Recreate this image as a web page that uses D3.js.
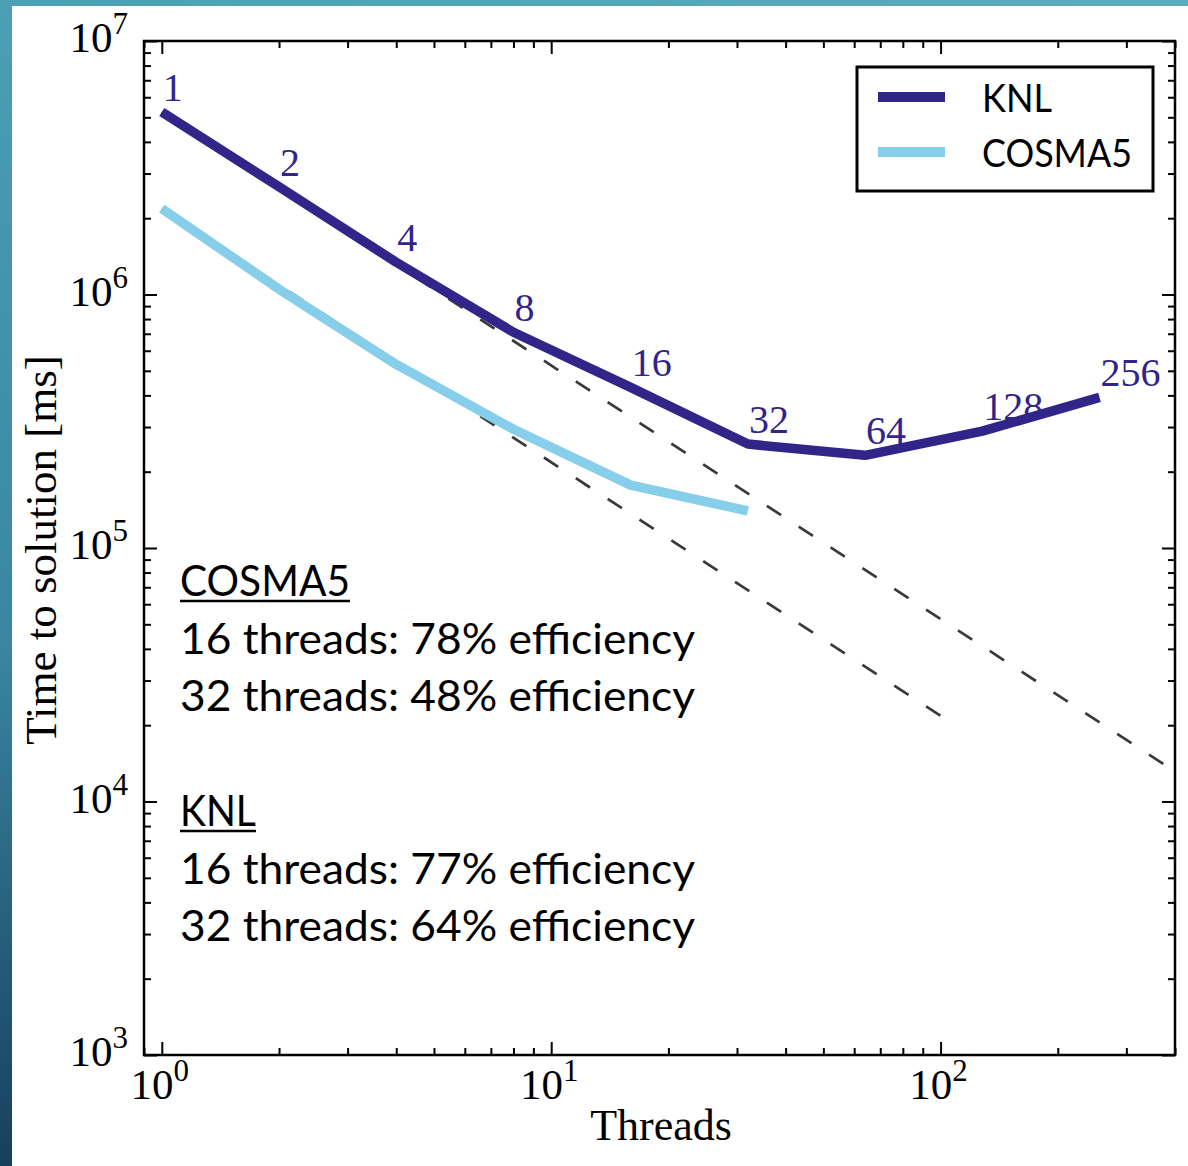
<!DOCTYPE html>
<html lang="en">
<head>
<meta charset="utf-8">
<title>Time to solution</title>
<script src="https://cdnjs.cloudflare.com/ajax/libs/d3/7.8.5/d3.min.js"></script>
<style>
  body { margin: 0; background: #fff; }
  svg { display: block; }
  .serif { font-family: "Liberation Serif", "DejaVu Serif", serif; }
  .sans { font-family: Lato, "Open Sans", sans-serif; }
  .axis path.domain { display: none; }
  .axis line { stroke: #000; stroke-width: 2; }
</style>
</head>
<body>
<div id="chart"></div>
<script>

// data
const knlThreads = [1, 2, 4, 8, 16, 32, 64, 128, 256];
const knlTimes = [5.25e6, 2.66e6, 1.34e6, 7.1e5, 4.3e5, 2.57e5, 2.32e5, 2.89e5, 3.93e5];
const cosmaThreads = [1, 2, 4, 8, 16, 32];
const cosmaTimes = [2.18e6, 1.05e6, 5.3e5, 2.94e5, 1.77e5, 1.40e5];

// ideal scaling guides (dashed)
const knlIdealThreads = [1, 400];
const knlIdealTimes = [5.25e6, 1.3125e4];
const cosmaIdealThreads = [1, 100];
const cosmaIdealTimes = [2.18e6, 2.18e4];

const xMajor = [1, 10, 100];
const xExponents = ["0", "1", "2"];
const yMajor = [1e3, 1e4, 1e5, 1e6, 1e7];
const yExponents = ["3", "4", "5", "6", "7"];

const seriesNames = ["KNL", "COSMA5"];
const seriesColors = ["#31258a", "#87ceeb"];

const noteHeads = ["COSMA5", "KNL"];
const noteLines = [
  ["16 threads: 78% efficiency", "32 threads: 48% efficiency"],
  ["16 threads: 77% efficiency", "32 threads: 64% efficiency"]
];

const W = 1188, H = 1166;
const box = {left: 144, right: 1175, top: 41, bottom: 1055};

const svg = d3.select("#chart").append("svg")
    .attr("width", W)
    .attr("height", H);

// slide frame
const defs = svg.append("defs");
const gv = defs.append("linearGradient").attr("id", "gv")
    .attr("x1", 0).attr("y1", 0).attr("x2", 0).attr("y2", 1);
gv.append("stop").attr("offset", "0%").attr("stop-color", "#4c9fb4");
gv.append("stop").attr("offset", "55%").attr("stop-color", "#3a86a0");
gv.append("stop").attr("offset", "100%").attr("stop-color", "#173f5e");
const gh = defs.append("linearGradient").attr("id", "gh")
    .attr("x1", 0).attr("y1", 0).attr("x2", 1).attr("y2", 0);
gh.append("stop").attr("offset", "0%").attr("stop-color", "#4c9fb4");
gh.append("stop").attr("offset", "100%").attr("stop-color", "#5cacbf");

svg.append("rect").attr("width", W).attr("height", H).attr("fill", "#fff");
svg.append("rect").attr("x", 0).attr("y", 0).attr("width", W).attr("height", 6).attr("fill", "url(#gh)");
svg.append("rect").attr("x", 0).attr("y", 0).attr("width", 12).attr("height", H).attr("fill", "url(#gv)");

const x = d3.scaleLog().domain([0.9, 400]).range([box.left, box.right]);
const y = d3.scaleLog().domain([1e3, 1e7]).range([box.bottom, box.top]);

const xMinor = x.ticks().filter(t => !xMajor.includes(t));
const yMinor = y.ticks().filter(t => !yMajor.includes(t));

const clip = defs.append("clipPath").attr("id", "plotclip");
clip.append("rect").attr("x", box.left).attr("y", box.top)
    .attr("width", box.right - box.left).attr("height", box.bottom - box.top);

// ticks, pointing inwards on all four sides
function tickLayer(axis, tx, ty) {
  svg.append("g").attr("class", "axis")
      .attr("transform", "translate(" + tx + "," + ty + ")")
      .call(axis);
}
tickLayer(d3.axisBottom(x).tickValues(xMajor).tickSize(-13).tickFormat(""), 0, box.bottom);
tickLayer(d3.axisBottom(x).tickValues(xMinor).tickSize(-7).tickFormat(""), 0, box.bottom);
tickLayer(d3.axisTop(x).tickValues(xMajor).tickSize(-13).tickFormat(""), 0, box.top);
tickLayer(d3.axisTop(x).tickValues(xMinor).tickSize(-7).tickFormat(""), 0, box.top);
tickLayer(d3.axisLeft(y).tickValues(yMajor).tickSize(-13).tickFormat(""), box.left, 0);
tickLayer(d3.axisLeft(y).tickValues(yMinor).tickSize(-7).tickFormat(""), box.left, 0);
tickLayer(d3.axisRight(y).tickValues(yMajor).tickSize(-13).tickFormat(""), box.right, 0);
tickLayer(d3.axisRight(y).tickValues(yMinor).tickSize(-7).tickFormat(""), box.right, 0);

// tick labels 10^n
const xLab = svg.append("g").attr("class", "serif");
xMajor.forEach((v, i) => {
  const t = xLab.append("text")
      .attr("x", x(v) - 2).attr("y", 1099)
      .attr("text-anchor", "middle")
      .attr("font-size", 43);
  t.append("tspan").text("10");
  t.append("tspan").attr("dy", -18).attr("font-size", 31).text(xExponents[i]);
});
const yLab = svg.append("g").attr("class", "serif");
yMajor.forEach((v, i) => {
  const t = yLab.append("text")
      .attr("x", 128).attr("y", y(v) + 11)
      .attr("text-anchor", "end")
      .attr("font-size", 43);
  t.append("tspan").text("10");
  t.append("tspan").attr("dy", -18).attr("font-size", 31).text(yExponents[i]);
});

// axis titles
svg.append("text").attr("class", "serif")
    .attr("x", 661).attr("y", 1140)
    .attr("text-anchor", "middle")
    .attr("font-size", 44)
    .text("Threads");
svg.append("text").attr("class", "serif")
    .attr("transform", "translate(56,550) rotate(-90)")
    .attr("text-anchor", "middle")
    .attr("font-size", 45)
    .text("Time to solution [ms]");

// lines
const plot = svg.append("g").attr("clip-path", "url(#plotclip)");
const line = d3.line().x(d => x(d[0])).y(d => y(d[1]));

[[knlIdealThreads, knlIdealTimes], [cosmaIdealThreads, cosmaIdealTimes]].forEach(p => {
  plot.append("path")
      .attr("d", line(d3.zip(p[0], p[1])))
      .attr("fill", "none")
      .attr("stroke", "#3a3a3a")
      .attr("stroke-width", 2.7)
      .attr("stroke-dasharray", "17,21");
});

plot.append("path")
    .attr("d", line(d3.zip(cosmaThreads, cosmaTimes)))
    .attr("fill", "none")
    .attr("stroke", seriesColors[1])
    .attr("stroke-width", 9.5)
    .attr("stroke-linejoin", "round");

plot.append("path")
    .attr("d", line(d3.zip(knlThreads, knlTimes)))
    .attr("fill", "none")
    .attr("stroke", seriesColors[0])
    .attr("stroke-width", 9.5)
    .attr("stroke-linejoin", "round");

// thread-count labels on the KNL curve
svg.append("g").attr("class", "serif")
  .selectAll("text")
  .data(d3.zip(knlThreads, knlTimes))
  .enter()
  .append("text")
    .attr("x", d => x(d[0]) + 1)
    .attr("y", d => y(d[1]) - 11)
    .attr("font-size", 40)
    .attr("fill", seriesColors[0])
    .text(d => d[0]);

// frame
svg.append("rect")
    .attr("x", box.left).attr("y", box.top)
    .attr("width", box.right - box.left).attr("height", box.bottom - box.top)
    .attr("fill", "none").attr("stroke", "#000").attr("stroke-width", 2.5);

// legend
const legend = svg.append("g");
legend.append("rect")
    .attr("x", 857).attr("y", 67).attr("width", 296).attr("height", 124)
    .attr("fill", "#fff").attr("stroke", "#000").attr("stroke-width", 3);
const legendW = [70, 150];
seriesNames.forEach((name, i) => {
  const ly = 97 + i * 55;
  legend.append("line")
      .attr("x1", 878).attr("x2", 945).attr("y1", ly).attr("y2", ly)
      .attr("stroke", seriesColors[i]).attr("stroke-width", 10);
  legend.append("text").attr("class", "sans")
      .attr("x", 982).attr("y", ly + 15)
      .attr("font-size", 38)
      .attr("textLength", legendW[i])
      .attr("lengthAdjust", "spacingAndGlyphs")
      .text(name);
});

// efficiency notes
const notes = svg.append("g").attr("class", "sans");
const headW = [170, 76];
noteHeads.forEach((head, k) => {
  const base = 596 + k * 230;
  notes.append("text")
      .attr("x", 180).attr("y", base)
      .attr("font-size", 43)
      .attr("textLength", headW[k])
      .attr("lengthAdjust", "spacingAndGlyphs")
      .text(head);
  notes.append("line")
      .attr("x1", 180).attr("x2", 180 + headW[k])
      .attr("y1", base + 5).attr("y2", base + 5)
      .attr("stroke", "#000").attr("stroke-width", 2.5);
  noteLines[k].forEach((s, j) => {
    notes.append("text")
        .attr("x", 180).attr("y", base + 57.5 * (j + 1))
        .attr("font-size", 43)
        .attr("textLength", 515)
        .attr("lengthAdjust", "spacingAndGlyphs")
        .text(s);
  });
});

</script>
</body>
</html>
